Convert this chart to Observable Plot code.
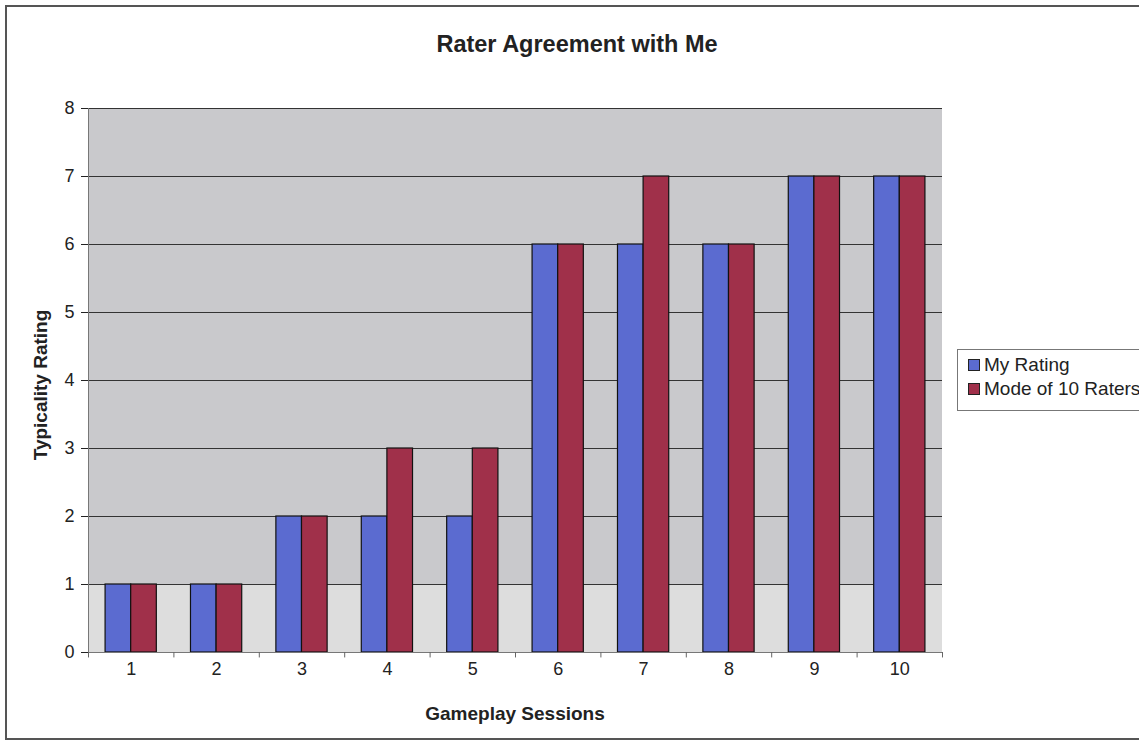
<!DOCTYPE html>
<html>
<head>
<meta charset="utf-8">
<script src="https://cdn.jsdelivr.net/npm/d3@7"></script>
<script src="https://cdn.jsdelivr.net/npm/@observablehq/plot@0.6"></script>
<style>
  html, body { margin: 0; padding: 0; background: #fff; }
  body { width: 1139px; height: 744px; position: relative; overflow: hidden; font-family: "Liberation Sans", Arial, sans-serif; }
  #frame { position: absolute; left: 5px; top: 5px; width: 1150px; height: 735px; border: 2px solid #555; box-sizing: border-box; }
  #title { position: absolute; left: 0; width: 1154px; top: 30px; text-align: center; font-weight: bold; font-size: 23.5px; color: #222; line-height: 28px; }
  #chart { position: absolute; left: 0; top: 0; }
  #chart svg g[aria-label*="axis"] text { font-size: 18px; fill: #222; }
  #legend { position: absolute; left: 957px; top: 349px; width: 200px; height: 62px; border: 1px solid #777; box-sizing: border-box; background: #fff; font-size: 19px; color: #222; }
  .li { position: absolute; left: 10px; display: flex; align-items: center; white-space: nowrap; line-height: 22px; }
  .sw { width: 10px; height: 10px; border: 1px solid #222; margin-right: 4px; }
</style>
</head>
<body>
<div id="frame"></div>
<div id="title">Rater Agreement with Me</div>
<div id="chart"></div>
<div id="legend">
  <div class="li" style="top:4px"><div class="sw" style="background:#5b6bd0"></div>My Rating</div>
  <div class="li" style="top:28px"><div class="sw" style="background:#a0304a"></div>Mode of 10 Raters</div>
</div>
<script>
const sessions = [1, 2, 3, 4, 5, 6, 7, 8, 9, 10];
const myRating = [1, 1, 2, 2, 2, 6, 6, 6, 7, 7];
const modeOf10 = [1, 1, 2, 3, 3, 6, 7, 6, 7, 7];
const seriesNames = ["My Rating", "Mode of 10 Raters"];
const seriesColors = ["#5b6bd0", "#a0304a"];
const yTicks = [0, 1, 2, 3, 4, 5, 6, 7, 8];

const barHalf = 0.3;
const rows = [];
sessions.forEach((s, i) => {
  rows.push({session: s, series: seriesNames[0], value: myRating[i], x1: s - barHalf, x2: s});
  rows.push({session: s, series: seriesNames[1], value: modeOf10[i], x1: s, x2: s + barHalf});
});
const boundaries = d3.range(sessions.length + 1).map(i => sessions[0] - 0.5 + i);
const xMin = boundaries[0], xMax = boundaries[boundaries.length - 1];

const chart = Plot.plot({
  width: 1139,
  height: 744,
  marginLeft: 88,
  marginRight: 197,
  marginTop: 108,
  marginBottom: 92,
  style: {fontFamily: '"Liberation Sans", Arial, sans-serif', fontSize: "18px", color: "#222", background: "transparent"},
  x: {domain: [xMin, xMax], ticks: sessions, tickSize: 0, tickPadding: 10, tickFormat: d => String(d), label: null},
  y: {domain: [0, 8], ticks: yTicks, tickSize: 7, tickPadding: 7, label: null},
  color: {domain: seriesNames, range: seriesColors},
  marks: [
    Plot.rect([{}], {x1: xMin, x2: xMax, y1: 0, y2: 8, fill: "#c9c9cc"}),
    Plot.rect([{}], {x1: xMin, x2: xMax, y1: 0, y2: 1, fill: "#dddddd"}),
    Plot.ruleY(yTicks.filter(d => d > 0), {stroke: "#333", strokeWidth: 1}),
    Plot.rectY(rows, {x1: "x1", x2: "x2", y1: 0, y2: "value", fill: "series", stroke: "#111", strokeWidth: 1.2}),
    Plot.ruleX([xMin], {y1: 0, y2: 8, stroke: "#777"}),
    Plot.ruleY([0], {x1: xMin, x2: xMax, stroke: "#777"}),
    Plot.ruleX(boundaries, {y1: 0, y2: -0.08, stroke: "#666"})
  ]
});
document.getElementById("chart").appendChild(chart);

const svg = d3.select(chart);
svg.append("text")
  .attr("x", 42).attr("y", 385)
  .attr("transform", "rotate(-90 42 385)")
  .attr("text-anchor", "middle").attr("dominant-baseline", "middle")
  .attr("font-weight", "bold").attr("font-size", 19).attr("fill", "#222")
  .text("Typicality Rating");
svg.append("text")
  .attr("x", 515).attr("y", 715)
  .attr("text-anchor", "middle").attr("dominant-baseline", "middle")
  .attr("font-weight", "bold").attr("font-size", 19).attr("fill", "#222")
  .text("Gameplay Sessions");
</script>
</body>
</html>
